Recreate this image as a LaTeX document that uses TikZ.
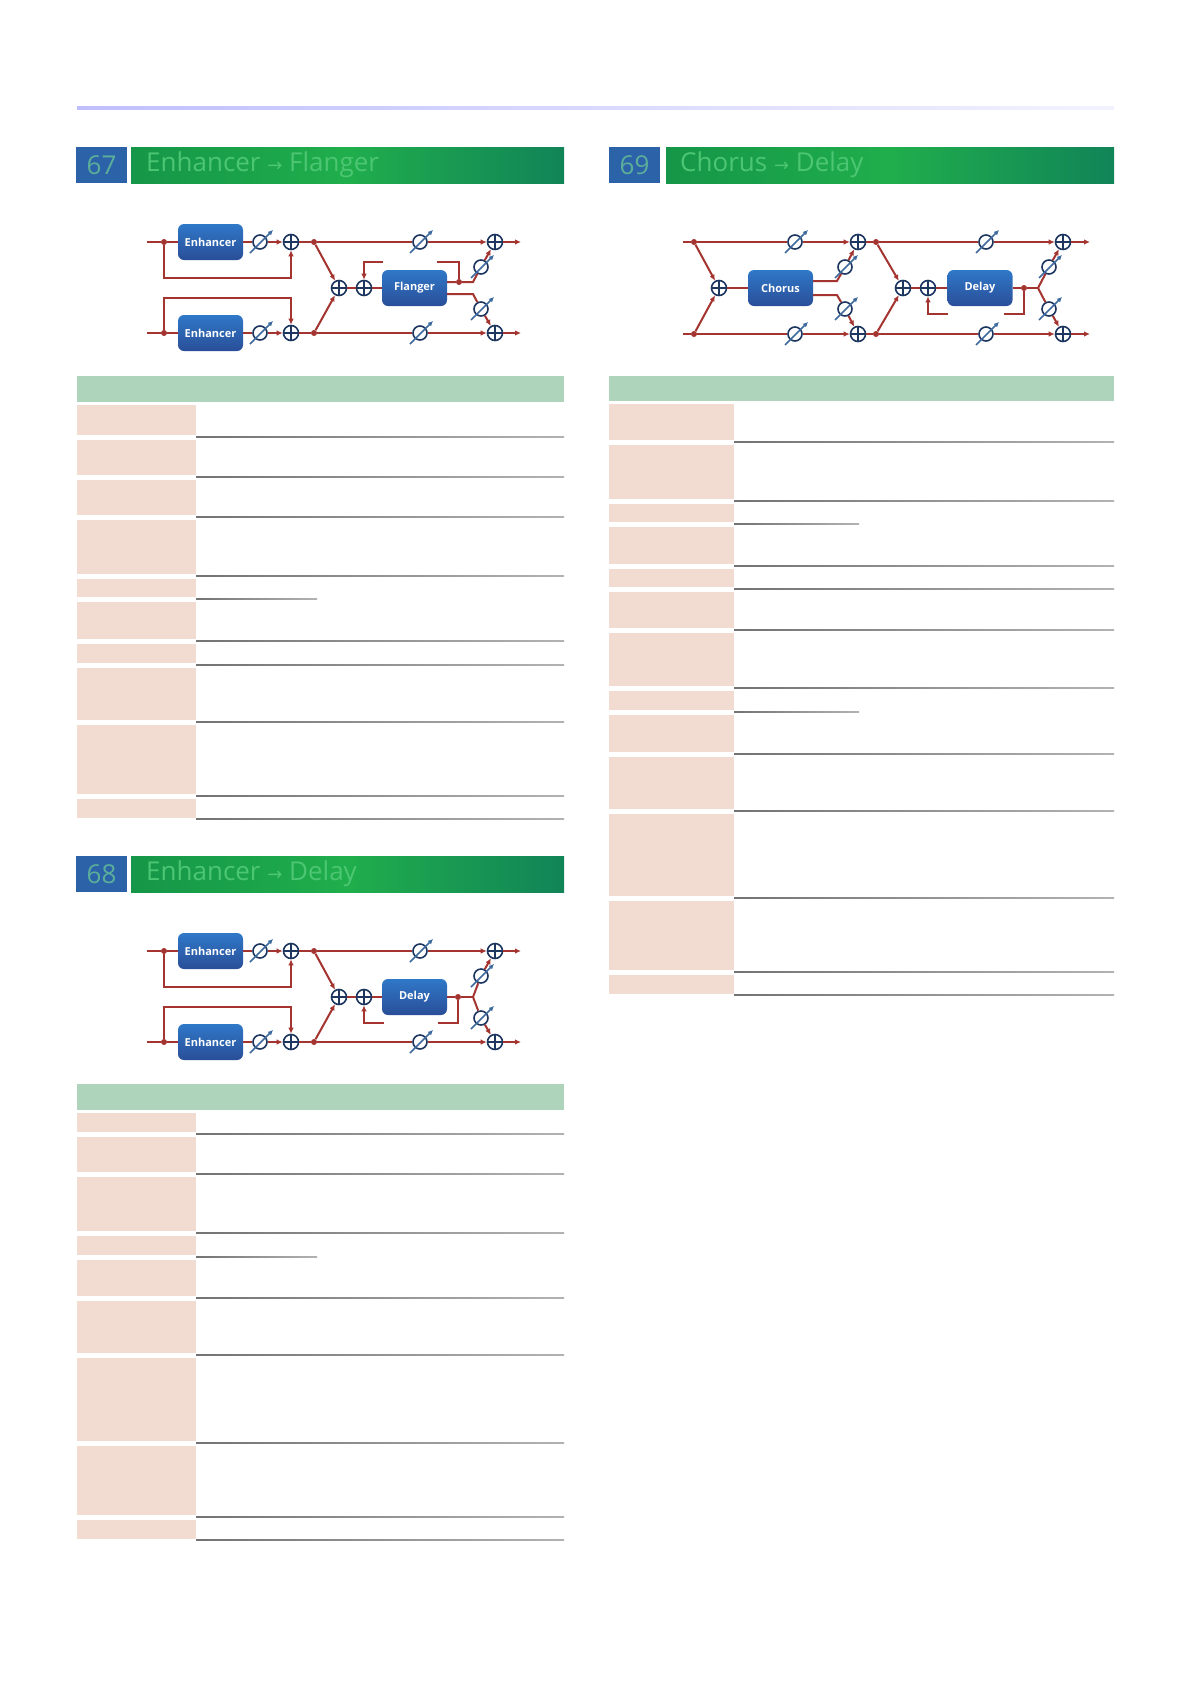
\documentclass[tikz,border=0pt]{standalone}
\usepackage{fontspec}
\setmainfont{Open Sans}
\newfontfamily\symf{DejaVu Sans}
\usetikzlibrary{arrows.meta,calc}
\definecolor{sigred}{HTML}{A3342F}
\definecolor{navy}{HTML}{1C3660}
\definecolor{steel}{HTML}{3F6A9E}
\definecolor{boxA}{HTML}{2F78C8}
\definecolor{boxB}{HTML}{2A4E98}
\definecolor{grA}{HTML}{159648}
\definecolor{grB}{HTML}{20AE4C}
\definecolor{grC}{HTML}{118458}
\definecolor{ttl}{HTML}{4DC673}
\definecolor{numbox}{HTML}{2C62A8}
\definecolor{numtxt}{HTML}{5BAE9A}
\definecolor{hdrgreen}{HTML}{AED4BB}
\definecolor{pinkc}{HTML}{F2DCD1}
\tikzset{
 sig/.style={draw=sigred, line width=2pt},
 sarr/.style={sig, -{Latex[length=6pt,width=5.5pt]}},
 sumn/.style={circle, draw=navy, line width=1.6pt, fill=white, minimum size=15pt, inner sep=0pt,
   path picture={\draw[navy,line width=1.1pt] (path picture bounding box.north)--(path picture bounding box.south) (path picture bounding box.west)--(path picture bounding box.east);}},
 gainn/.style={circle, draw=navy, line width=1.6pt, fill=white, minimum size=14pt, inner sep=0pt},
 gainarr/.style={draw=steel, line width=1.6pt, -{Latex[length=5pt,width=5pt]}},
 dotn/.style={circle, fill=sigred, minimum size=6pt, inner sep=0pt},
 fxbox/.style={rounded corners=6pt, minimum width=65pt, minimum height=36pt, inner sep=0pt,
   top color=boxA, bottom color=boxB, text=white, font=\bfseries\fontsize{11}{12}\selectfont},
 numbx/.style={fill=numbox, minimum width=51pt, minimum height=36pt, inner sep=0pt, text=numtxt, font=\fontsize{26}{28}\selectfont},
 ttltext/.style={anchor=west, text=ttl, inner sep=0pt, font=\fontsize{26}{28}\selectfont},
}
\newcommand\gainmark[1]{\draw[gainarr] ($(#1)+(-10,11)$) -- ($(#1)+(13,-12)$);}
\newcommand\rowline[3]{\shade[left color=black!55, right color=black!30] (#1,#3-0.7) rectangle (#2,#3+0.7);}
\begin{document}
\begin{tikzpicture}[x=1pt,y=-1pt]
\useasboundingbox (0,0) rectangle (1191,1684);
\fill[white] (0,0) rectangle (1191,1684);
% top rule
\shade[left color=black!4!blue!25, right color=black!3!blue!5] (77,106.5) rectangle (1114,109.5);

% ===== titles =====
\node[numbx] (n67) at (101.5,165) {67};
\shade[left color=grA, right color=grC, middle color=grB] (131,147) rectangle (564,183);
\node[ttltext] (t67) at (146,165) {Enhancer {\symf\fontsize{18}{20}\selectfont →} Flanger};
\node[numbx] (n68) at (101.5,874) {68};
\shade[left color=grA, right color=grC, middle color=grB] (131,856) rectangle (564,892);
\node[ttltext] (t68) at (146,874) {Enhancer {\symf\fontsize{18}{20}\selectfont →} Delay};
\node[numbx] (n69) at (634.5,165) {69};
\shade[left color=grA, right color=grC, middle color=grB] (666,147) rectangle (1114,183);
\node[ttltext] (t69) at (680,165) {Chorus {\symf\fontsize{18}{20}\selectfont →} Delay};

% ===== tables =====
\fill[hdrgreen] (77,376) rectangle (564,402);
\foreach \a/\b in {405/435,440/475,480/515,520/574,579/597,602/639,644/663,668/720,725/794,799/818}
  {\fill[pinkc] (77,\a) rectangle (196,\b);}
\foreach \yy in {437,477,517,576,641,665,722,796,819} {\rowline{196}{564}{\yy}}
\rowline{196}{317}{599}

\fill[hdrgreen] (77,1084) rectangle (564,1110);
\foreach \a/\b in {1113/1132,1137/1172,1177/1231,1236/1255,1260/1296,1301/1353,1358/1441,1446/1515,1520/1539}
  {\fill[pinkc] (77,\a) rectangle (196,\b);}
\foreach \yy in {1134,1174,1233,1298,1355,1443,1517,1540} {\rowline{196}{564}{\yy}}
\rowline{196}{317}{1257}

\fill[hdrgreen] (609,376) rectangle (1114,401);
\foreach \a/\b in {404/440,445/499,504/522,527/564,569/587,592/628,633/686,691/710,715/752,757/809,814/896,901/970,975/994}
  {\fill[pinkc] (609,\a) rectangle (734,\b);}
\foreach \yy in {442,501,566,589,630,688,754,811,898,972,995} {\rowline{734}{1114}{\yy}}
\rowline{734}{859}{524}
\rowline{734}{859}{712}

% ===== diagram 67 =====
\begin{scope}[name prefix=a-]
\coordinate (inT) at (147,242); \coordinate (inB) at (147,333);
\node[dotn] (dT) at (164,242) {}; \node[dotn] (dB) at (164,333) {};
\node[fxbox] (eT) at (210.5,242) {Enhancer};
\node[fxbox] (eB) at (210.5,333) {Enhancer};
\node[gainn] (gT) at (260,242) {}; \node[gainn] (gB) at (260,333) {};
\node[sumn] (sT) at (291,242) {}; \node[sumn] (sB) at (291,333) {};
\node[dotn] (mT) at (314,242) {}; \node[dotn] (mB) at (314,333) {};
\node[gainn] (hT) at (420,242) {}; \node[gainn] (hB) at (420,333) {};
\node[sumn] (oT) at (495,242) {}; \node[sumn] (oB) at (495,333) {};
\coordinate (endT) at (521,242); \coordinate (endB) at (521,333);
\node[sumn] (s1) at (339,288) {}; \node[sumn] (s2) at (364,288) {};
\node[fxbox] (fx) at (414.5,288) {Flanger};
\node[dotn] (od) at (459,282) {};
\coordinate (bT) at (473,282); \coordinate (bB) at (473,294);
\node[gainn] (kT) at (481,267) {}; \node[gainn] (kB) at (481,309) {};
\coordinate (fbA) at (383,262); \coordinate (fbB) at (437,262);
\draw[sig] (inT) -- (dT) -- (eT); \draw[sig] (inB) -- (dB) -- (eB);
\draw[sig] (eT) -- (gT); \draw[sig] (eB) -- (gB);
\draw[sarr] (gT) -- (sT); \draw[sarr] (gB) -- (sB);
\draw[sarr] (dT) -- ++(0,36) -| (sT);
\draw[sarr] (dB) -- ++(0,-35) -| (sB);
\draw[sig] (sT) -- (mT) -- (hT); \draw[sig] (sB) -- (mB) -- (hB);
\draw[sarr] (hT) -- (oT); \draw[sarr] (hB) -- (oB);
\draw[sarr] (oT) -- (endT); \draw[sarr] (oB) -- (endB);
\draw[sarr] (mT) -- (s1); \draw[sarr] (mB) -- (s1);
\draw[sig] (s1) -- (s2); \draw[sig] (s2) -- (fx);
\draw[sarr] (fbA) -| (s2);
\draw[sig] (fx.east |- od) -- (od) -- (bT) -- (kT); \draw[sarr] (kT) -- (oT);
\draw[sig] (od) |- (fbB);
\draw[sig] (fx.east |- bB) -- (bB) -- (kB); \draw[sarr] (kB) -- (oB);
\gainmark{gT}\gainmark{gB}\gainmark{hT}\gainmark{hB}\gainmark{kT}\gainmark{kB}
\end{scope}

% ===== diagram 68 =====
\begin{scope}[name prefix=b-]
\coordinate (inT) at (147,951); \coordinate (inB) at (147,1042);
\node[dotn] (dT) at (164,951) {}; \node[dotn] (dB) at (164,1042) {};
\node[fxbox] (eT) at (210.5,951) {Enhancer};
\node[fxbox] (eB) at (210.5,1042) {Enhancer};
\node[gainn] (gT) at (260,951) {}; \node[gainn] (gB) at (260,1042) {};
\node[sumn] (sT) at (291,951) {}; \node[sumn] (sB) at (291,1042) {};
\node[dotn] (mT) at (314,951) {}; \node[dotn] (mB) at (314,1042) {};
\node[gainn] (hT) at (420,951) {}; \node[gainn] (hB) at (420,1042) {};
\node[sumn] (oT) at (495,951) {}; \node[sumn] (oB) at (495,1042) {};
\coordinate (endT) at (521,951); \coordinate (endB) at (521,1042);
\node[sumn] (s1) at (339,997) {}; \node[sumn] (s2) at (364,997) {};
\node[fxbox] (fx) at (414.5,997) {Delay};
\node[dotn] (od) at (458,997) {};
\coordinate (bM) at (473,997);
\node[gainn] (kT) at (481,976) {}; \node[gainn] (kB) at (481,1018) {};
\coordinate (fbA) at (384,1023); \coordinate (fbB) at (438,1023);
\draw[sig] (inT) -- (dT) -- (eT); \draw[sig] (inB) -- (dB) -- (eB);
\draw[sig] (eT) -- (gT); \draw[sig] (eB) -- (gB);
\draw[sarr] (gT) -- (sT); \draw[sarr] (gB) -- (sB);
\draw[sarr] (dT) -- ++(0,36) -| (sT);
\draw[sarr] (dB) -- ++(0,-35) -| (sB);
\draw[sig] (sT) -- (mT) -- (hT); \draw[sig] (sB) -- (mB) -- (hB);
\draw[sarr] (hT) -- (oT); \draw[sarr] (hB) -- (oB);
\draw[sarr] (oT) -- (endT); \draw[sarr] (oB) -- (endB);
\draw[sarr] (mT) -- (s1); \draw[sarr] (mB) -- (s1);
\draw[sig] (s1) -- (s2); \draw[sig] (s2) -- (fx);
\draw[sarr] (fbA) -| (s2);
\draw[sig] (fx) -- (od) -- (bM);
\draw[sig] (od) |- (fbB);
\draw[sig] (bM) -- (kT); \draw[sarr] (kT) -- (oT);
\draw[sig] (bM) -- (kB); \draw[sarr] (kB) -- (oB);
\gainmark{gT}\gainmark{gB}\gainmark{hT}\gainmark{hB}\gainmark{kT}\gainmark{kB}
\end{scope}

% ===== diagram 69 =====
\begin{scope}[name prefix=c-]
\coordinate (inT) at (683,242); \coordinate (inB) at (683,334);
\node[dotn] (dT) at (694,242) {}; \node[dotn] (dB) at (694,334) {};
\node[sumn] (s0) at (719,288) {};
\node[fxbox] (ch) at (780.5,288) {Chorus};
\node[gainn] (gT) at (795,242) {}; \node[gainn] (gB) at (795,334) {};
\node[sumn] (sT) at (858,242) {}; \node[sumn] (sB) at (858,334) {};
\coordinate (cT) at (837,281); \coordinate (cB) at (837,295);
\node[gainn] (jT) at (845,267) {}; \node[gainn] (jB) at (845,309) {};
\node[dotn] (mT) at (876,242) {}; \node[dotn] (mB) at (876,334) {};
\node[sumn] (s1) at (903,288) {}; \node[sumn] (s2) at (928,288) {};
\node[fxbox] (fx) at (980,288) {Delay};
\node[dotn] (od) at (1024,288) {};
\coordinate (bM) at (1038,288);
\node[gainn] (hT) at (986,242) {}; \node[gainn] (hB) at (986,334) {};
\node[sumn] (oT) at (1063,242) {}; \node[sumn] (oB) at (1063,334) {};
\coordinate (endT) at (1090,242); \coordinate (endB) at (1090,334);
\node[gainn] (kT) at (1049,267) {}; \node[gainn] (kB) at (1049,309) {};
\coordinate (fbA) at (948,314); \coordinate (fbB) at (1004,314);
\draw[sig] (inT) -- (dT) -- (gT); \draw[sig] (inB) -- (dB) -- (gB);
\draw[sarr] (gT) -- (sT); \draw[sarr] (gB) -- (sB);
\draw[sarr] (dT) -- (s0); \draw[sarr] (dB) -- (s0);
\draw[sig, line width=2.6pt] (s0) -- (ch);
\draw[sig] (ch.east |- cT) -- (cT) -- (jT); \draw[sarr] (jT) -- (sT);
\draw[sig] (ch.east |- cB) -- (cB) -- (jB); \draw[sarr] (jB) -- (sB);
\draw[sig] (sT) -- (mT) -- (hT); \draw[sig] (sB) -- (mB) -- (hB);
\draw[sarr] (hT) -- (oT); \draw[sarr] (hB) -- (oB);
\draw[sarr] (oT) -- (endT); \draw[sarr] (oB) -- (endB);
\draw[sarr] (mT) -- (s1); \draw[sarr] (mB) -- (s1);
\draw[sig] (s1) -- (s2); \draw[sig] (s2) -- (fx);
\draw[sarr] (fbA) -| (s2);
\draw[sig] (fx) -- (od) -- (bM);
\draw[sig] (od) |- (fbB);
\draw[sig] (bM) -- (kT); \draw[sarr] (kT) -- (oT);
\draw[sig] (bM) -- (kB); \draw[sarr] (kB) -- (oB);
\gainmark{gT}\gainmark{gB}\gainmark{jT}\gainmark{jB}\gainmark{hT}\gainmark{hB}\gainmark{kT}\gainmark{kB}
\end{scope}
\end{tikzpicture}
\end{document}
